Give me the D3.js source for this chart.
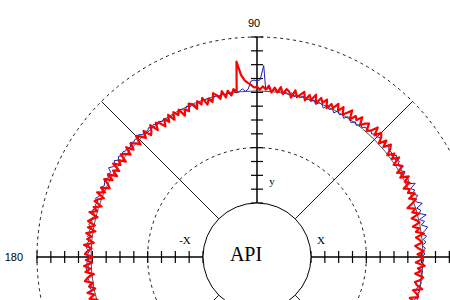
<!DOCTYPE html>
<html>
<head>
<meta charset="utf-8">
<script src="https://cdn.jsdelivr.net/npm/d3@7"></script>
<style>
  body { margin: 0; background: #fff; }
  svg { display: block; }
</style>
</head>
<body>
<script>
// sampling grid (degrees, counter-clockwise from +x), one value per degree
var angleStart = -18, angleStep = 1;

// radial values in ring units (0 = API circle, 12 = outer dashed ring)
var redValues = [
    8.18, 7.73, 7.93, 7.53, 8.10, 7.96, 7.63, 8.26, 7.83, 7.66,   // -18..-9
    8.03, 8.20, 7.60, 7.98, 7.76, 8.24, 7.58, 7.93, 8.13, 7.70,   // -8..1
    8.16, 7.80, 7.56, 8.08, 7.92, 7.68, 8.28, 7.73, 8.00, 7.58,   // 2..11
    8.10, 7.93, 7.62, 8.22, 7.78, 8.06, 7.54, 7.96, 8.32, 7.88,   // 12..21
    8.40, 7.95, 8.18, 7.80, 8.37, 8.08, 8.52, 7.94, 8.31, 7.91,   // 22..31
    8.51, 8.31, 8.01, 8.64, 8.16, 8.53, 8.05, 8.49, 8.73, 8.21,   // 32..41
    8.68, 8.14, 8.58, 8.80, 8.33, 8.89, 8.38, 8.18, 8.69, 8.50,   // 42..51
    8.19, 8.74, 8.33, 8.54, 8.08, 8.73, 8.40, 8.12, 8.60, 8.17,   // 52..61
    8.63, 8.18, 8.39, 7.98, 8.55, 8.21, 8.50, 7.99, 8.58, 8.10,   // 62..71
    8.41, 7.94, 8.52, 8.25, 8.01, 8.46, 7.88, 8.28, 8.42, 8.03,   // 72..81
    8.50, 8.09, 8.41, 8.04, 8.52, 8.21, 8.44, 8.20, 8.39, 8.35,   // 82..91
    8.55, 8.70, 8.90, 9.30, 10.30, 8.15, 8.35, 7.92, 8.30, 7.85,  // 92..101
    8.35, 7.83, 8.14, 8.36, 7.75, 8.04, 7.68, 8.26, 7.83, 8.16,   // 102..111
    7.65, 8.08, 8.24, 7.72, 7.97, 7.57, 8.16, 7.82, 8.19, 7.67,   // 112..121
    8.22, 7.75, 8.11, 7.63, 8.05, 8.25, 7.74, 8.37, 7.97, 7.77,   // 122..131
    8.36, 7.87, 8.20, 8.47, 7.80, 8.15, 8.36, 7.92, 8.44, 7.86,   // 132..141
    8.20, 8.42, 7.82, 8.32, 8.00, 8.50, 7.84, 8.24, 7.78, 8.41,   // 142..151
    7.92, 8.49, 8.08, 7.85, 8.44, 8.03, 8.56, 7.95, 8.30, 8.51,   // 152..161
    7.91, 8.44, 8.11, 8.63, 7.98, 8.32, 8.58, 8.04, 8.50, 7.92,   // 162..171
    8.56, 8.16, 8.44, 7.94, 8.62, 8.08, 8.34, 8.54, 7.96, 8.47,   // 172..181
    8.03, 8.61, 8.17, 8.54, 7.96, 8.43, 8.66, 8.10, 8.39, 8.01,   // 182..191
    8.62, 8.17, 8.57, 8.03, 8.68, 8.24, 8.55                      // 192..198
];

var blueValues = [
    8.10, 7.92, 8.05, 7.88, 8.14, 7.98, 8.08, 7.85, 8.02, 8.12,   // -18..-9
    7.95, 8.18, 8.02, 8.10, 7.94, 8.22, 8.06, 8.16, 7.98, 8.24,   // -8..1
    8.10, 8.28, 8.05, 8.36, 8.18, 8.45, 8.12, 8.40, 8.62, 8.20,   // 2..11
    8.48, 8.15, 8.70, 8.25, 8.40, 8.18, 8.66, 8.30, 8.22, 8.55,   // 12..21
    8.20, 8.48, 8.26, 8.72, 8.15, 8.40, 8.30, 8.18, 8.45, 8.22,   // 22..31
    8.40, 8.24, 8.50, 8.30, 8.58, 8.28, 8.42, 8.36, 8.55, 8.32,   // 32..41
    8.46, 8.30, 8.52, 8.38, 8.44, 8.25, 8.40, 8.20, 8.34, 8.15,   // 42..51
    8.25, 8.02, 8.18, 7.95, 8.12, 8.20, 7.92, 8.10, 7.98, 8.16,   // 52..61
    7.90, 8.12, 7.96, 8.20, 7.88, 8.08, 8.14, 7.92, 8.18, 7.98,   // 62..71
    8.12, 7.95, 8.20, 8.02, 8.15, 7.98, 8.24, 8.05, 8.18, 8.10,   // 72..81
    8.22, 8.08, 8.25, 8.12, 8.30, 8.20, 9.95, 8.90, 8.85, 8.88,   // 82..91
    8.82, 8.25, 8.10, 8.30, 8.15, 8.05, 8.22, 8.10, 8.25, 8.02,   // 92..101
    8.15, 7.98, 8.20, 8.05, 7.92, 8.12, 8.00, 8.18, 7.95, 8.08,   // 102..111
    7.92, 8.10, 7.96, 8.14, 7.90, 8.05, 8.12, 7.94, 8.08, 7.98,   // 112..121
    8.10, 7.96, 8.16, 8.04, 8.22, 8.08, 8.26, 8.12, 8.30, 8.15,   // 122..131
    8.32, 8.18, 8.40, 8.22, 8.35, 8.28, 8.45, 8.20, 8.38, 8.30,   // 132..141
    8.42, 8.25, 8.48, 8.30, 8.55, 8.28, 8.40, 8.62, 8.30, 8.44,   // 142..151
    8.26, 8.50, 8.35, 8.28, 8.46, 8.22, 8.40, 8.32, 8.52, 8.25,   // 152..161
    8.38, 8.22, 8.45, 8.30, 8.20, 8.42, 8.28, 8.48, 8.24, 8.36,   // 162..171
    8.26, 8.44, 8.20, 8.38, 8.30, 8.46, 8.22, 8.34, 8.40, 8.25,   // 172..181
    8.42, 8.28, 8.50, 8.32, 8.24, 8.45, 8.36, 8.28, 8.48, 8.30,   // 182..191
    8.38, 8.26, 8.46, 8.34, 8.42, 8.30, 8.50                      // 192..198
];

var refCircle = 8.1;          // thin reference circle
var dashedRings = [4, 12];
var ringTicks = d3.range(0, 13);
var axisAngles = [0, 90, 180, 270];
var diagAngles = [45, 135, 225, 315];

var width = 450, height = 300;
var cx = 257, cy = 257;

var rScale = d3.scaleLinear()
    .domain([0, 12])
    .range([54, 220]);

function toXY(theta, v) {
    var a = theta * Math.PI / 180;
    return [cx + rScale(v) * Math.cos(a), cy - rScale(v) * Math.sin(a)];
}

var svg = d3.select("body").append("svg")
    .attr("width", width)
    .attr("height", height);

var g = svg.append("g");

// dashed rings
g.selectAll(".ring")
    .data(dashedRings)
  .enter().append("circle")
    .attr("class", "ring")
    .attr("cx", cx)
    .attr("cy", cy)
    .attr("r", function (d) { return rScale(d); })
    .attr("fill", "none")
    .attr("stroke", "#000")
    .attr("stroke-width", 0.9)
    .attr("stroke-dasharray", "3,3.5");

// diagonal spokes
g.selectAll(".diag")
    .data(diagAngles)
  .enter().append("line")
    .attr("class", "diag")
    .attr("x1", function (d) { return toXY(d, 0)[0]; })
    .attr("y1", function (d) { return toXY(d, 0)[1]; })
    .attr("x2", function (d) { return toXY(d, 12)[0]; })
    .attr("y2", function (d) { return toXY(d, 12)[1]; })
    .attr("stroke", "#000")
    .attr("stroke-width", 0.9);

// main axes with ticks
axisAngles.forEach(function (ang) {
    var p0 = toXY(ang, 0), p1 = toXY(ang, 12);
    g.append("line")
        .attr("x1", p0[0]).attr("y1", p0[1])
        .attr("x2", p1[0]).attr("y2", p1[1])
        .attr("stroke", "#000")
        .attr("stroke-width", 1.5);

    var a = ang * Math.PI / 180;
    var nx = Math.sin(a) * 6, ny = Math.cos(a) * 6;
    g.selectAll(null)
        .data(ringTicks)
      .enter().append("line")
        .attr("x1", function (d) { return toXY(ang, d)[0] - nx; })
        .attr("y1", function (d) { return toXY(ang, d)[1] - ny; })
        .attr("x2", function (d) { return toXY(ang, d)[0] + nx; })
        .attr("y2", function (d) { return toXY(ang, d)[1] + ny; })
        .attr("stroke", "#000")
        .attr("stroke-width", 1.2);
});

// API circle
g.append("circle")
    .attr("cx", cx)
    .attr("cy", cy)
    .attr("r", rScale(0))
    .attr("fill", "#fff")
    .attr("stroke", "#000")
    .attr("stroke-width", 1);

// reference circle
g.append("circle")
    .attr("cx", cx)
    .attr("cy", cy)
    .attr("r", rScale(refCircle))
    .attr("fill", "none")
    .attr("stroke", "#222")
    .attr("stroke-width", 0.8);

var line = d3.line()
    .x(function (d, i) { return toXY(angleStart + i * angleStep, d)[0]; })
    .y(function (d, i) { return toXY(angleStart + i * angleStep, d)[1]; });

g.append("path")
    .datum(blueValues)
    .attr("d", line)
    .attr("fill", "none")
    .attr("stroke", "#2020b0")
    .attr("stroke-width", 1);

g.append("path")
    .datum(redValues)
    .attr("d", line)
    .attr("fill", "none")
    .attr("stroke", "#ff0000")
    .attr("stroke-width", 2.2)
    .attr("stroke-linejoin", "round");

// labels
var sans = "Liberation Sans, Arial, sans-serif";
var serif = "Liberation Serif, Times New Roman, serif";

svg.append("text")
    .attr("x", cx - 3).attr("y", 27)
    .attr("text-anchor", "middle")
    .style("font-family", sans).style("font-size", "11px")
    .text("90");

svg.append("text")
    .attr("x", 23).attr("y", 261)
    .attr("text-anchor", "end")
    .style("font-family", sans).style("font-size", "11px")
    .text("180");

svg.append("text")
    .attr("x", 246).attr("y", 261)
    .attr("text-anchor", "middle")
    .style("font-family", serif).style("font-size", "20px")
    .text("API");

svg.append("text")
    .attr("x", 185).attr("y", 244)
    .attr("text-anchor", "middle")
    .style("font-family", serif).style("font-size", "11px")
    .text("-X");

svg.append("text")
    .attr("x", 321).attr("y", 244)
    .attr("text-anchor", "middle")
    .style("font-family", serif).style("font-size", "11px")
    .text("X");

svg.append("text")
    .attr("x", 272).attr("y", 185)
    .attr("text-anchor", "middle")
    .style("font-family", serif).style("font-size", "11px")
    .text("y");
</script>
</body>
</html>
